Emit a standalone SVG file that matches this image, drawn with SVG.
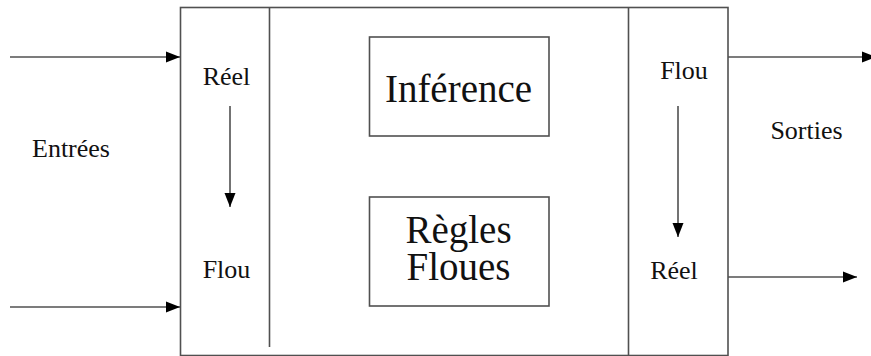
<svg xmlns="http://www.w3.org/2000/svg" width="871" height="356" viewBox="0 0 871 356">
<style>
.ln{stroke:#505050;stroke-width:1.6;fill:none}
.bx{stroke:#505050;stroke-width:1.6;fill:#fff}
.s{font-family:"Liberation Serif","Times New Roman",serif;font-size:26px;fill:#111;text-anchor:middle}
.l{font-family:"Liberation Serif","Times New Roman",serif;font-size:39px;fill:#111;text-anchor:middle}
</style>
<defs>
<marker id="ah" markerUnits="userSpaceOnUse" markerWidth="14" markerHeight="12" refX="14" refY="6" orient="auto">
<path d="M0,0.5 L14,6 L0,11.5 z" fill="#000"/>
</marker>
</defs>
<rect width="871" height="356" fill="#fff"/>
<g id="system">
<rect class="bx" x="180.5" y="7.5" width="547.5" height="348"/>
<line class="ln" x1="269.5" y1="7.5" x2="269.5" y2="347"/>
<line class="ln" x1="628.5" y1="7.5" x2="628.5" y2="355.5"/>
</g>
<g id="fuzzification">
<text class="s" x="226.5" y="84.5">Réel</text>
<text class="s" x="226.5" y="277.5">Flou</text>
</g>
<g id="inference">
<rect class="bx" x="369.5" y="37" width="179.5" height="99"/>
<text class="l" x="458.5" y="101.5">Inférence</text>
</g>
<g id="regles">
<rect class="bx" x="369.5" y="197" width="179.5" height="109"/>
<text class="l" x="458.5" y="242.5">Règles</text>
<text class="l" x="458.5" y="280">Floues</text>
</g>
<g id="defuzzification">
<text class="s" x="684" y="79">Flou</text>
<text class="s" x="674" y="278.5">Réel</text>
</g>
<g id="entrees">
<text class="s" x="71" y="156.5">Entrées</text>
</g>
<g id="sorties">
<text class="s" x="806.5" y="138.5">Sorties</text>
</g>
<g id="connectors">
<line class="ln" x1="10" y1="57" x2="180" y2="57" marker-end="url(#ah)"/>
<line class="ln" x1="10" y1="307" x2="180" y2="307" marker-end="url(#ah)"/>
<line class="ln" x1="230" y1="106" x2="230" y2="207" marker-end="url(#ah)"/>
<line class="ln" x1="678" y1="106" x2="678" y2="237" marker-end="url(#ah)"/>
<line class="ln" x1="728" y1="57" x2="876" y2="57" marker-end="url(#ah)"/>
<line class="ln" x1="728" y1="277" x2="857" y2="277" marker-end="url(#ah)"/>
</g>
</svg>
